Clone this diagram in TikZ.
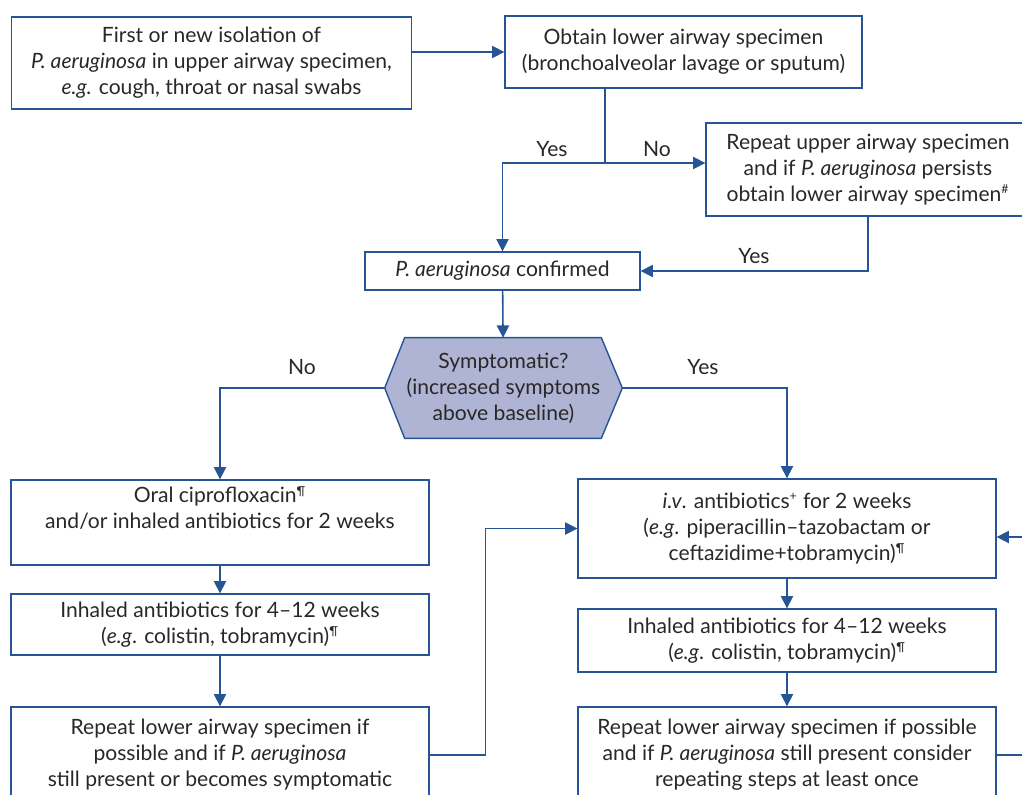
\documentclass[tikz,border=0pt]{standalone}
\usepackage{fontspec}
\setmainfont{Lato}
\usepackage{xcolor}
\usetikzlibrary{arrows,arrows.meta,positioning}

\definecolor{flowblue}{RGB}{38,84,148}
\definecolor{hexfill}{RGB}{176,180,212}
\definecolor{ink}{RGB}{40,40,40}
\newcommand{\pa}{\textit{P. aeruginosa}}
\newcommand{\para}{\textsuperscript{\scriptsize ¶}}

\begin{document}
\begin{tikzpicture}[x=0.02cm, y=-0.02cm,
    font=\fontsize{12}{14.8}\selectfont, text=ink,
    box/.style={draw=flowblue, line width=0.8pt, align=center, inner sep=0pt},
    link/.style={draw=flowblue, line width=0.9pt, -{Triangle[length=7pt,width=7pt]}},
    lbl/.style={font=\fontsize{12}{14.8}\selectfont}]
    \useasboundingbox (0,0) rectangle (1022,795);
    \clip (0,0) rectangle (1022,795);

    % Isolation and confirmation
    \node[box, minimum width=8cm, minimum height=1.84cm] (first) at (211.5,63)
        {First or new isolation of\\ \pa{} in upper airway specimen,\\ \textit{e.g.} cough, throat or nasal swabs};
    \node[box, minimum width=7.14cm, minimum height=1.44cm] (lower) at (683.5,52)
        {Obtain lower airway specimen\\(bronchoalveolar lavage or sputum)};
    \node[box, minimum width=6.48cm, minimum height=1.86cm] (upper) at (868,169.5)
        {Repeat upper airway specimen\\and if \pa{} persists\\obtain lower airway specimen\textsuperscript{\scriptsize\#}};
    \node[box, minimum width=5.5cm, minimum height=0.76cm] (conf) at (502.5,271)
        {\pa{} confirmed};
    \coordinate (split) at (605,163);

    \draw[link] (first.east |- lower.west) -- (lower.west);
    \draw[flowblue, line width=0.9pt] (lower.south -| split) -- (split);
    \draw[link] (split) -| (conf);
    \draw[link] (split) -- (upper.west |- split);
    \draw[link] (upper) |- (conf);
    \node[lbl] (yes1) at (552,149) {Yes};
    \node[lbl] (no1) at (657,149) {No};
    \node[lbl] (yes2) at (754,256) {Yes};

    % Symptomatic?
    \node[minimum width=4.74cm, minimum height=2cm, inner sep=0pt] (sym) at (503.5,388) {};
    \fill[hexfill, draw=flowblue, line width=0.8pt] (sym.west) -- ([xshift=0.4cm]sym.north west)
        -- ([xshift=-0.42cm]sym.north east) -- (sym.east) -- ([xshift=-0.42cm]sym.south east)
        -- ([xshift=0.4cm]sym.south west) -- cycle;
    \node[align=center, inner sep=0pt] (symtext) at (sym) {Symptomatic?\\(increased symptoms\\above baseline)};
    \draw[link] (conf) -- (sym);
    \node[lbl] (no2) at (302,367) {No};
    \node[lbl] (yes3) at (703,367) {Yes};

    % No: oral / inhaled
    \node[box, minimum width=8.36cm, minimum height=1.7cm, text depth=17pt] (oral) at (220,522.5)
        {Oral ciprofloxacin\para\\and/or inhaled antibiotics for 2 weeks};
    \node[box, minimum width=8.36cm, minimum height=1.22cm] (inhL) at (220,624.5)
        {Inhaled antibiotics for 4–12 weeks\\(\textit{e.g}. colistin, tobramycin)\para};
    \node[box, minimum width=8.36cm, minimum height=1.92cm] (repL) at (220,755)
        {Repeat lower airway specimen if\\possible and if \pa\\still present or becomes symptomatic};

    % Yes: i.v. / inhaled
    \node[box, minimum width=8.36cm, minimum height=1.98cm] (iv) at (787,528.5)
        {\textit{i.v}. antibiotics\textsuperscript{\scriptsize +} for 2 weeks\\(\textit{e.g}. piperacillin–tazobactam or\\ceftazidime+tobramycin)\para};
    \node[box, minimum width=8.36cm, minimum height=1.26cm] (inhR) at (787,640.5)
        {Inhaled antibiotics for 4–12 weeks\\(\textit{e.g}. colistin, tobramycin)\para};
    \node[box, minimum width=8.36cm, minimum height=1.92cm] (repR) at (787,755)
        {Repeat lower airway specimen if possible\\and if \pa{} still present consider\\repeating steps at least once};
    \coordinate (loop) at (1050,537);

    \draw[link] (sym.west) -| (oral);
    \draw[link] (sym.east) -| (iv);
    \draw[link] (oral) -- (inhL);
    \draw[link] (inhL) -- (repL);
    \draw[link] (iv) -- (inhR);
    \draw[link] (inhR) -- (repR);
    \draw[link] (repL.east) -- ++(56,0) |- (iv.west);
    \draw[link] (repR.east) -| (loop) -- (iv.east |- loop);
\end{tikzpicture}
\end{document}
